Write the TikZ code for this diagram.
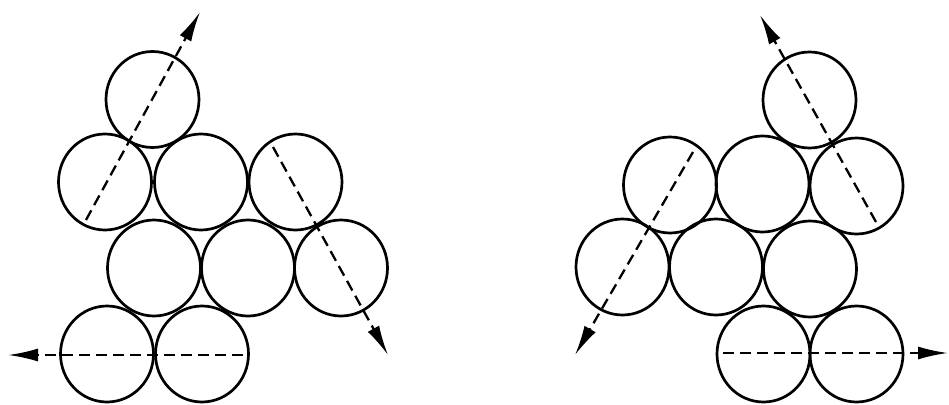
\documentclass[tikz,border=0pt]{standalone}
\usetikzlibrary{arrows.meta,shapes.geometric}
\begin{document}
\begin{tikzpicture}[x=1pt,y=-1pt,
  ball/.style={draw, ellipse, line width=2.7pt, minimum width=93pt, minimum height=96pt, inner sep=0pt},
  dasharrow/.style={line width=2.3pt, dash pattern=on 11pt off 6pt, -{Latex[length=30pt,width=13pt]}}]
\useasboundingbox (0,0) rectangle (949,404);
% left group
\node[ball] (L1) at (152.5,99.5) {};
\node[ball] (L2) at (105,182) {};
\node[ball] (L3) at (201,182) {};
\node[ball] (L4) at (295.5,182) {};
\node[ball] (L5) at (154,268) {};
\node[ball] (L6) at (248,268) {};
\node[ball] (L7) at (341,268) {};
\node[ball] (L8) at (107,354) {};
\node[ball] (L9) at (202,354) {};
\coordinate (La) at (86,220);
\coordinate (Lat) at (200,12);
\coordinate (Lb) at (273,147);
\coordinate (Lbt) at (388,355);
\coordinate (Lc) at (243,355);
\coordinate (Lct) at (8,355);
\draw[dasharrow] (La) -- (Lat);
\draw[dasharrow] (Lb) -- (Lbt);
\draw[dasharrow] (Lc) -- (Lct);
% right group
\node[ball] (R1) at (809.5,100) {};
\node[ball] (R2) at (670,185) {};
\node[ball] (R3) at (762.5,184) {};
\node[ball] (R4) at (856.5,186) {};
\node[ball] (R5) at (622.5,267) {};
\node[ball] (R6) at (716,267) {};
\node[ball] (R7) at (810,269) {};
\node[ball] (R8) at (763.5,354) {};
\node[ball] (R9) at (856.5,354) {};
\coordinate (Ra) at (693,152);
\coordinate (Rat) at (575,355);
\coordinate (Rb) at (876,222);
\coordinate (Rbt) at (760,15);
\coordinate (Rc) at (723,353);
\coordinate (Rct) at (948,353);
\draw[dasharrow] (Ra) -- (Rat);
\draw[dasharrow] (Rb) -- (Rbt);
\draw[dasharrow] (Rc) -- (Rct);
\end{tikzpicture}
\end{document}
